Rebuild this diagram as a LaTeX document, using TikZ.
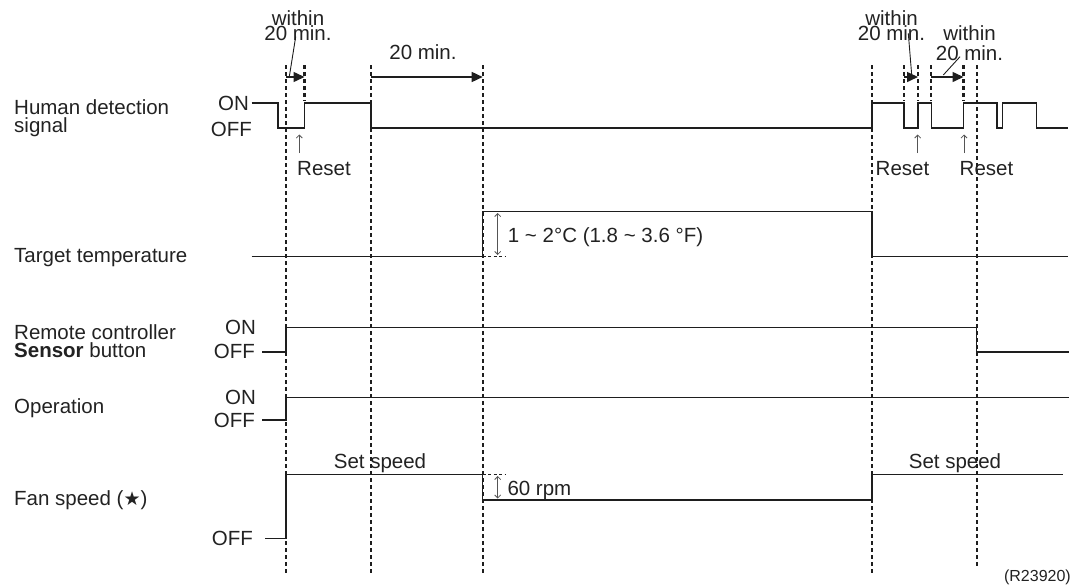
\documentclass[tikz,border=0pt]{standalone}
\usepackage{fontspec}
\setmainfont{Liberation Sans}
\newfontfamily\symfont{DejaVu Sans}
\usetikzlibrary{arrows.meta}
\definecolor{ink}{HTML}{1E1E1E}
\definecolor{txt}{HTML}{222222}
\definecolor{thin}{HTML}{555555}
\begin{document}
\begin{tikzpicture}[x=1pt,y=-1pt,
  lbl/.style={inner sep=0pt, font=\fontsize{20.5}{18}\selectfont, text=txt},
  tight/.style={inner sep=0pt, align=center, font=\fontsize{20.5}{15.7}\selectfont, text=txt},
  small/.style={inner sep=0pt, font=\fontsize{16}{18}\selectfont, text=txt},
  sig/.style={line width=1.4pt, draw=ink, line join=miter},
  guide/.style={line width=2.1pt, draw=ink, dash pattern=on 3.5pt off 3.5pt},
  tarrow/.style={line width=1.5pt, draw=ink, -{Triangle[length=11pt,width=10pt]}},
  leader/.style={line width=0.9pt, draw=ink},
  thinarrow/.style={line width=0.8pt, draw=thin, -{Straight Barb[length=3pt,width=6pt]}},
  dimarrow/.style={line width=0.8pt, draw=thin, {Straight Barb[length=3pt,width=6pt]}-{Straight Barb[length=3pt,width=6pt]}},
  tick/.style={line width=1.2pt, draw=ink, dash pattern=on 3pt off 2.5pt}
]
\useasboundingbox (0,0) rectangle (1074,584);

% ---------- guide lines ----------
\foreach \x in {286,371,482.7,872} \draw[guide] (\x,65) -- (\x,576);
\draw[guide] (976.7,65) -- (976.7,566);
\foreach \x in {304.5,904,918,931,963.5} \draw[guide] (\x,65) -- (\x,101);

% ---------- row labels ----------
\node[lbl, align=left, anchor=base west] (hd) at (14,132.3) {Human detection\\signal};
\node[lbl, anchor=base west] (tt) at (14,262.3) {Target temperature};
\node[lbl, align=left, anchor=base west] (rc) at (14,357) {Remote controller\\\textbf{Sensor} button};
\node[lbl, anchor=base west] (op) at (14,413) {Operation};
\node[lbl, anchor=base west] (fs) at (14,505) {Fan speed ({\symfont\fontsize{19}{18}\selectfont ★})};

% ON / OFF labels
\node[lbl, anchor=base east] (hon) at (249,110) {ON};
\node[lbl, anchor=base east] (hoff) at (252,136) {OFF};
\node[lbl, anchor=base east] (ron) at (256,334) {ON};
\node[lbl, anchor=base east] (roff) at (255,358) {OFF};
\node[lbl, anchor=base east] (oon) at (256,404) {ON};
\node[lbl, anchor=base east] (ooff) at (255,427) {OFF};
\node[lbl, anchor=base east] (foff) at (253,545.5) {OFF};

% ---------- signals ----------
% human detection
\draw[sig] (251.7,103) -- (278,103) -- (278,128) -- (304.5,128) -- (304.5,103)
  -- (371,103) -- (371,128) -- (872,128) -- (872,103) -- (904,103) -- (904,128)
  -- (918,128) -- (918,103) -- (931.5,103) -- (931.5,128) -- (963.5,128)
  -- (963.5,103) -- (997,103) -- (997,128) -- (1002.5,128) -- (1002.5,103)
  -- (1036.5,103) -- (1036.5,128) -- (1068,128);
% target temperature
\draw[sig] (251.7,256.7) -- (482.7,256.7) -- (482.7,211.7) -- (872,211.7)
  -- (872,256.7) -- (1068,256.7);
% remote controller
\draw[sig] (262,352) -- (286,352) -- (286,327.5) -- (976.7,327.5)
  -- (976.7,352) -- (1069,352);
% operation
\draw[sig] (262,420) -- (286,420) -- (286,397.3) -- (1069,397.3);
% fan speed
\draw[sig] (265,538.3) -- (286,538.3) -- (286,474.3) -- (482.7,474.3)
  -- (482.7,500) -- (872,500) -- (872,474.5) -- (1062.7,474.5);

% ---------- timing annotations ----------
\node[tight, anchor=base] (w1) at (298,40.7) {within\\20 min.};
\coordinate (w1s) at (286,77); \coordinate (w1e) at (304.5,77);
\coordinate (l1a) at (295.7,36.7); \coordinate (l1b) at (289.3,76.7);
\draw[leader] (l1a) -- (l1b);
\draw[tarrow] (w1s) -- (w1e);

\node[lbl, anchor=base] (t20) at (423,59.3) {20 min.};
\coordinate (t20s) at (371,77); \coordinate (t20e) at (482.7,77);
\draw[tarrow] (t20s) -- (t20e);

\node[tight, anchor=base] (w2) at (891.5,40.7) {within\\20 min.};
\coordinate (w2s) at (904,77); \coordinate (w2e) at (918,77);
\coordinate (l2a) at (908.3,33.3); \coordinate (l2b) at (911.7,75);
\draw[leader] (l2a) -- (l2b);
\draw[tarrow] (w2s) -- (w2e);

\node[tight, anchor=base, font=\fontsize{20.5}{20}\selectfont] (w3) at (969.5,60.7) {within\\20 min.};
\coordinate (w3s) at (931,77); \coordinate (w3e) at (963.5,77);
\coordinate (l3a) at (960,56.7); \coordinate (l3b) at (943.3,75);
\draw[leader] (l3a) -- (l3b);
\draw[tarrow] (w3s) -- (w3e);

% ---------- reset marks ----------
\node[lbl, anchor=base] (r1) at (324,175) {Reset};
\coordinate (r1a) at (299.3,153); \coordinate (r1b) at (299.3,134.5);
\draw[thinarrow] (r1a) -- (r1b);
\node[lbl, anchor=base] (r2) at (902.5,175) {Reset};
\coordinate (r2a) at (917.7,153); \coordinate (r2b) at (917.7,134.5);
\draw[thinarrow] (r2a) -- (r2b);
\node[lbl, anchor=base] (r3) at (986.5,175) {Reset};
\coordinate (r3a) at (964,153); \coordinate (r3b) at (964,134.5);
\draw[thinarrow] (r3a) -- (r3b);

% ---------- dimensions ----------
\coordinate (d1a) at (497.7,213); \coordinate (d1b) at (497.7,255);
\draw[dimarrow] (d1a) -- (d1b);
\coordinate (k1a) at (482.7,256.7); \coordinate (k1b) at (506,256.7);
\draw[tick] (k1a) -- (k1b);
\node[lbl, anchor=base west] (temp) at (507.7,242) {1 \textasciitilde{} 2°C (1.8 \textasciitilde{} 3.6 °F)};

\coordinate (d2a) at (497.7,476); \coordinate (d2b) at (497.7,498.5);
\draw[dimarrow] (d2a) -- (d2b);
\coordinate (k2a) at (482.7,474.3); \coordinate (k2b) at (506,474.3);
\draw[tick] (k2a) -- (k2b);
\node[lbl, anchor=base west] (rpm) at (507.3,495) {60 rpm};

\node[lbl, anchor=base] (ss1) at (380,468) {Set speed};
\node[lbl, anchor=base] (ss2) at (955,468) {Set speed};

\node[small, anchor=base east] (ref) at (1071,581) {(R23920)};
\end{tikzpicture}
\end{document}
